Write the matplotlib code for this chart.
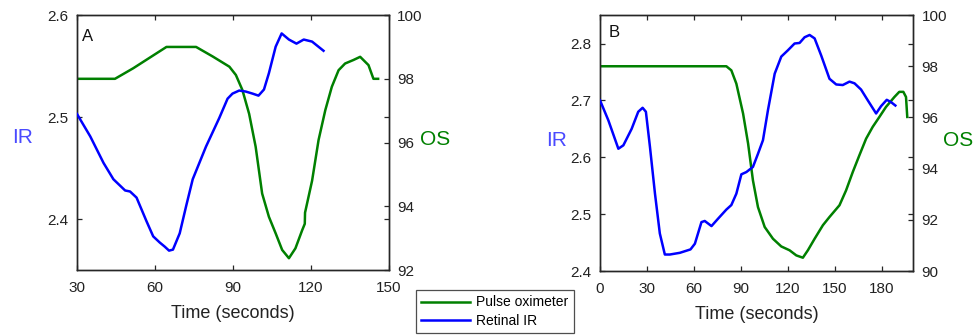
import matplotlib
matplotlib.use("Agg")
import matplotlib.pyplot as plt
from matplotlib.lines import Line2D

plt.rcParams['font.family'] = ['Liberation Sans', 'DejaVu Sans']

# ---- Panel A data ----
a_ir_t = [30, 35.1, 40.2, 44, 48.5, 50.4, 52.9, 56.7, 59.3, 61.8, 63.7, 65.4, 66.9, 69.5, 72,
          74.5, 79.6, 84.7, 87.9, 89.8, 92.4, 94.9, 97.5, 99.8, 101.9, 103.8, 106.4, 108.7,
          111.5, 114.4, 117.2, 120.4, 124.8]
a_ir_v = [2.503, 2.481, 2.455, 2.439, 2.428, 2.427, 2.421, 2.398, 2.383, 2.377, 2.373, 2.369,
          2.370, 2.386, 2.413, 2.439, 2.471, 2.499, 2.518, 2.523, 2.526, 2.525, 2.523, 2.521,
          2.527, 2.543, 2.569, 2.582, 2.576, 2.572, 2.576, 2.574, 2.565]
a_os_t = [30, 44.6, 51.6, 64.4, 75.8, 82.2, 88.6, 91.1, 93.6, 96.2, 98.7, 101.2, 103.8, 106.4,
          108.9, 111.5, 114, 116.6, 117.6, 117.7, 120.4, 122.9, 125.5, 128, 130.6, 133.1,
          136.3, 138.9, 142.1, 144, 145.8]
a_os_v = [98.0, 98.0, 98.33, 99.0, 99.0, 98.7, 98.38, 98.12, 97.65, 96.9, 95.87, 94.4, 93.67,
          93.15, 92.63, 92.37, 92.68, 93.25, 93.45, 93.8, 94.8, 96.08, 97.02, 97.75, 98.27,
          98.48, 98.59, 98.69, 98.43, 98.0, 98.0]

# ---- Panel B data ----
b_ir_t = [0, 5.3, 11.7, 14.9, 20.2, 24.4, 27.2, 29.3, 31.9, 35.1, 38.2, 41.4, 44.6, 51, 57.8,
          60.6, 64.8, 66.9, 71.2, 75.4, 80.7, 83.9, 87.1, 90.3, 93.5, 97.7, 100.9, 104.1,
          107.3, 111.6, 115.8, 120, 124.3, 127.5, 130.7, 133.9, 137.1, 141.3, 146.6, 150.9,
          155.1, 159.4, 162.6, 166.8, 171.1, 176.4, 179.6, 183.2, 185.9, 188.7]
b_ir_v = [2.700, 2.665, 2.615, 2.621, 2.650, 2.680, 2.687, 2.680, 2.618, 2.536, 2.466, 2.429,
          2.429, 2.432, 2.438, 2.448, 2.486, 2.488, 2.479, 2.492, 2.508, 2.516, 2.536, 2.570,
          2.574, 2.583, 2.606, 2.630, 2.683, 2.747, 2.777, 2.788, 2.800, 2.801, 2.811, 2.815,
          2.809, 2.779, 2.738, 2.728, 2.727, 2.733, 2.730, 2.719, 2.700, 2.677, 2.690, 2.701,
          2.697, 2.691]
b_os_t = [0, 80.7, 83.9, 87.1, 91.4, 94.6, 97.7, 100.9, 105.2, 110.5, 115.8, 121.1, 125.4,
          129.6, 132.8, 137.1, 142.4, 146.6, 153, 157.2, 161.5, 165.7, 170, 174.2, 178.5,
          182.7, 188.1, 191.2, 193.8, 195.5, 196.3]
b_os_v = [98, 98, 97.84, 97.32, 96.15, 94.98, 93.54, 92.5, 91.72, 91.26, 90.96, 90.81, 90.61,
          90.52, 90.81, 91.26, 91.79, 92.11, 92.57, 93.15, 93.87, 94.52, 95.17, 95.63, 96.02,
          96.41, 96.8, 97.0, 97.0, 96.8, 96.02]

BLUE = '#0000ff'
GREEN = '#008000'
IR_LABEL_COLOR = '#4a4aff'
SPINE = '#262626'

fig = plt.figure(figsize=(9.76, 3.35), dpi=100)


def make_panel(rect, ir_t, ir_v, os_t, os_v, xlim, xticks, ylim, yticks, y2lim, y2ticks,
               letter, ir_xy, os_xy, letter_xy):
    ax = fig.add_axes(rect)
    ax2 = ax.twinx()
    ax.plot(ir_t, ir_v, color=BLUE, lw=1.8, zorder=3)
    ax2.plot(os_t, os_v, color=GREEN, lw=1.8)
    ax.set_zorder(ax2.get_zorder() + 1)
    ax.patch.set_visible(False)
    ax.set_xlim(*xlim)
    ax.set_xticks(xticks)
    ax.set_ylim(*ylim)
    ax.set_yticks(yticks)
    ax.set_yticklabels([f"{v:.1f}" for v in yticks])
    ax2.set_ylim(*y2lim)
    ax2.set_yticks(y2ticks)
    for a in (ax, ax2):
        for s in a.spines.values():
            s.set_color(SPINE)
            s.set_linewidth(1.0)
    ax.tick_params(direction='in', length=3.5, width=0.9, color=SPINE, labelsize=11,
                   labelcolor='#222222', pad=6, top=True, right=True)
    ax.tick_params(axis='x', pad=8)
    ax2.tick_params(direction='in', length=3.5, width=0.9, color=SPINE, labelsize=11,
                    labelcolor='#222222', pad=6)
    ax.set_xlabel('Time (seconds)', fontsize=13, color='#222222', labelpad=7)
    ax.set_ylabel('IR', rotation=0, color=IR_LABEL_COLOR, fontsize=15, va='center', ha='center')
    ax.yaxis.set_label_coords(*ir_xy)
    ax2.set_ylabel('OS', rotation=0, color=GREEN, fontsize=15, va='center', ha='center')
    ax2.yaxis.set_label_coords(*os_xy)
    ax.text(letter_xy[0], letter_xy[1], letter, transform=ax.transAxes, fontsize=12,
            color='#111111', ha='left', va='center')
    return ax, ax2


make_panel([0.0789, 0.194, 0.3197, 0.761], a_ir_t, a_ir_v, a_os_t, a_os_v,
           (30, 150), [30, 60, 90, 120, 150], (2.35, 2.6), [2.4, 2.5, 2.6],
           (92, 100), [92, 94, 96, 98, 100], 'A', (-0.176, 0.52), (1.147, 0.51), (0.016, 0.915))

make_panel([0.6148, 0.191, 0.3207, 0.764], b_ir_t, b_ir_v, b_os_t, b_os_v,
           (0, 200), [0, 30, 60, 90, 120, 150, 180], (2.4, 2.85), [2.4, 2.5, 2.6, 2.7, 2.8],
           (90, 100), [90, 92, 94, 96, 98, 100], 'B', (-0.139, 0.51), (1.144, 0.51), (0.026, 0.93))

handles = [Line2D([], [], color=GREEN, lw=1.8), Line2D([], [], color=BLUE, lw=1.8)]
leg = fig.legend(handles, ['Pulse oximeter', 'Retinal IR'], loc='center',
                 bbox_to_anchor=(0.507, 0.070), fontsize=10, frameon=True, fancybox=False,
                 edgecolor='#222222', handlelength=3.5, handletextpad=0.45, labelspacing=0.3,
                 borderpad=0.4)
leg.get_frame().set_linewidth(0.9)

fig.savefig('out.png', dpi=100)
